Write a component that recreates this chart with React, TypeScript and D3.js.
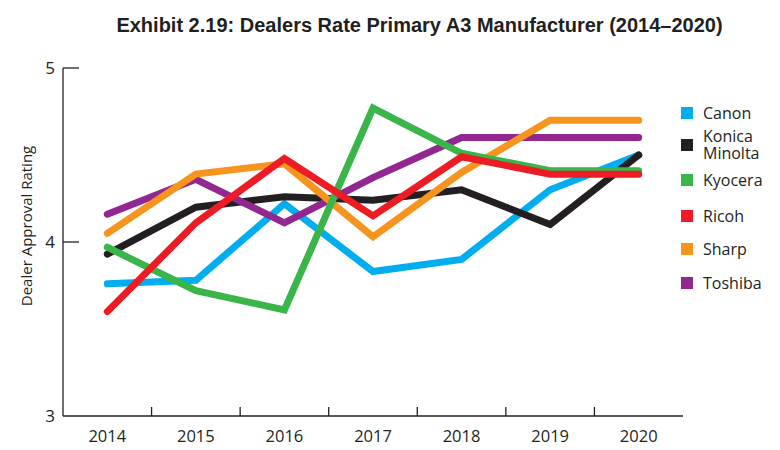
import React from "react";
import * as d3 from "d3";

const years = ["2014", "2015", "2016", "2017", "2018", "2019", "2020"];
const yTicks = [3, 4, 5];

const canon = [3.76, 3.78, 4.22, 3.83, 3.9, 4.3, 4.5];
const konica = [3.93, 4.2, 4.26, 4.24, 4.3, 4.1, 4.5];
const kyocera = [3.97, 3.72, 3.61, 4.77, 4.51, 4.41, 4.41];
const ricoh = [3.6, 4.11, 4.48, 4.15, 4.49, 4.39, 4.39];
const sharp = [4.05, 4.39, 4.45, 4.03, 4.4, 4.7, 4.7];
const toshiba = [4.16, 4.36, 4.11, 4.37, 4.6, 4.6, 4.6];

const legendNames = ["Canon", "Konica\nMinolta", "Kyocera", "Ricoh", "Sharp", "Toshiba"];
const colors = ["#00aeef", "#231f20", "#39b54a", "#ed1c24", "#f7941d", "#92278f"];
const seriesValues = [canon, konica, kyocera, ricoh, sharp, toshiba];
const drawOrder = [0, 1, 5, 4, 2, 3];
const legendY = [113, 145, 180, 216, 249, 283];

const LABEL_FONT = "'Open Sans', sans-serif";

export default function App() {
  const W = 780, H = 450;
  const x0 = 63, x1 = 683, yTop = 68, yBot = 416;
  const x = d3.scaleBand<string>().domain(years).range([x0, x1]);
  const y = d3.scaleLinear().domain([3, 5]).range([yBot, yTop]);
  const line = d3
    .line<number>()
    .x((_, i) => (x(years[i]) as number) + x.bandwidth() / 2)
    .y((d) => y(d));

  return (
    <svg width={W} height={H} style={{ position: "absolute", left: 0, top: 0, background: "#fff" }}>
      <text
        x={419.5}
        y={32}
        textAnchor="middle"
        fontFamily="'Liberation Sans', Arial, sans-serif"
        fontWeight="bold"
        fontSize={20}
        fill="#231f20"
      >
        Exhibit 2.19: Dealers Rate Primary A3 Manufacturer (2014–2020)
      </text>

      {/* y axis */}
      <line x1={x0} x2={x0} y1={yTop} y2={yBot} stroke="#231f20" strokeWidth={1.3} />
      {yTicks.map((t) => (
        <g key={t}>
          {t !== 3 && (
            <line x1={x0} x2={x0 + 16} y1={y(t)} y2={y(t)} stroke="#231f20" strokeWidth={1.3} />
          )}
          <text
            x={50}
            y={y(t)}
            dy="0.36em"
            textAnchor="middle"
            fontFamily={LABEL_FONT}
            fontSize={17}
            fill="#231f20"
          >
            {t}
          </text>
        </g>
      ))}
      <text
        transform={`translate(32,${226}) rotate(-90)`}
        textAnchor="middle"
        fontFamily={LABEL_FONT}
        fontSize={15}
        fill="#231f20"
      >
        Dealer Approval Rating
      </text>

      {/* x axis */}
      <line x1={x0} x2={x1} y1={yBot} y2={yBot} stroke="#231f20" strokeWidth={1.3} />
      {years.slice(1).map((yr) => (
        <line
          key={yr}
          x1={x(yr) as number}
          x2={x(yr) as number}
          y1={yBot}
          y2={yBot - 9}
          stroke="#231f20"
          strokeWidth={1.3}
        />
      ))}
      {years.map((yr) => (
        <text
          key={yr}
          x={(x(yr) as number) + x.bandwidth() / 2}
          y={442}
          textAnchor="middle"
          fontFamily={LABEL_FONT}
          fontSize={16.5}
          fill="#231f20"
        >
          {yr}
        </text>
      ))}

      {/* lines */}
      {drawOrder.map((i) => (
        <path
          key={i}
          d={line(seriesValues[i]) || ""}
          fill="none"
          stroke={colors[i]}
          strokeWidth={7}
          strokeLinecap="round"
          strokeLinejoin="miter"
        />
      ))}

      {/* legend */}
      {legendNames.map((name, i) => {
        const lines = name.split("\n");
        return (
          <g key={name}>
            <rect x={681} y={legendY[i] - 6} width={12} height={12} fill={colors[i]} />
            <text
              x={703}
              y={legendY[i] - (lines.length - 1) * 8.5}
              fontFamily={LABEL_FONT}
              fontSize={16}
              fill="#231f20"
            >
              {lines.map((l, j) => (
                <tspan key={j} x={703} dy={j === 0 ? "0.36em" : 17}>
                  {l}
                </tspan>
              ))}
            </text>
          </g>
        );
      })}
    </svg>
  );
}
